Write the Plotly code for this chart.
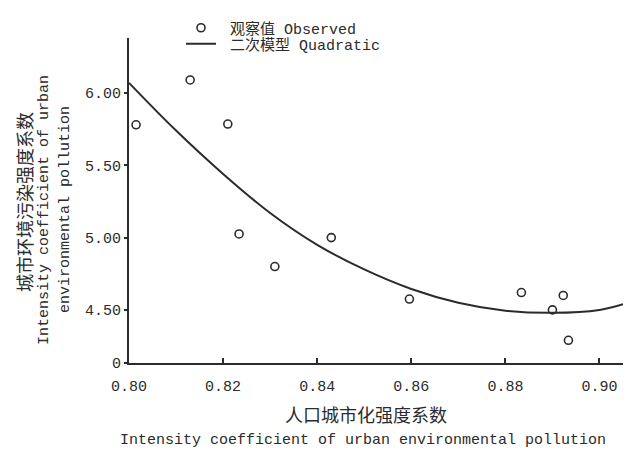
import plotly.graph_objects as go

# Observed values
obs_x = [0.8015, 0.8130, 0.8210, 0.8234, 0.8310, 0.8430, 0.8596, 0.8834, 0.8900, 0.8923, 0.8934]
obs_y = [5.78, 6.09, 5.785, 5.025, 4.80, 5.00, 4.575, 4.62, 4.50, 4.60, 4.29]

# Quadratic model curve
fit_x = [0.800, 0.810, 0.820, 0.830, 0.840, 0.850, 0.860, 0.870, 0.880, 0.890, 0.900, 0.905]
fit_y = [6.07, 5.74, 5.44, 5.17, 4.95, 4.78, 4.645, 4.55, 4.495, 4.48, 4.50, 4.54]

x_tickvals = [0.80, 0.82, 0.84, 0.86, 0.88, 0.90]
x_ticktext = ["0.80", "0.82", "0.84", "0.86", "0.88", "0.90"]
y_tickvals = [4.133, 4.50, 5.00, 5.50, 6.00]
y_ticktext = ["0", "4.50", "5.00", "5.50", "6.00"]

MONO = "Liberation Mono, Noto Sans CJK SC, monospace"
CJK = "Noto Sans CJK SC"
INK = "#2b2b2b"

fig = go.Figure()
fig.add_trace(go.Scatter(
    x=obs_x, y=obs_y, mode="markers",
    name="\u00a0观察值 Observed",
    marker=dict(symbol="circle-open", size=8, color=INK, line=dict(width=1.6)),
    cliponaxis=False, legend="legend",
))
fig.add_trace(go.Scatter(
    x=fit_x, y=fit_y, mode="lines",
    name="\u00a0二次模型 Quadratic",
    line=dict(color=INK, width=2, shape="spline"), legend="legend2",
))

L, R, T, B = 129, 14, 38, 91
W, H = 637, 454
pw, ph = W - L - R, H - T - B

def px(xp):
    return (xp - L) / pw

def py(yp):
    return (H - B - yp) / ph

leg_common = dict(
    xanchor="left", yanchor="middle", bgcolor="rgba(0,0,0,0)",
    font=dict(size=15, family=MONO, color=INK), itemwidth=30,
)

fig.update_layout(
    width=W, height=H,
    margin=dict(l=L, r=R, t=T, b=B, autoexpand=False),
    paper_bgcolor="white", plot_bgcolor="white",
    font=dict(family=MONO, size=14, color=INK),
    showlegend=True,
    legend=dict(x=px(181), y=py(28), **leg_common),
    legend2=dict(x=px(181), y=py(44), **leg_common),
    xaxis=dict(
        range=[0.80, 0.905], tickvals=x_tickvals, ticktext=x_ticktext,
        showgrid=False, zeroline=False, showline=True, linecolor=INK, linewidth=2,
        ticks="inside", ticklen=5, tickwidth=1.5, tickcolor=INK,
        ticklabelstandoff=8,
        tickfont=dict(family=MONO, size=15, color=INK),
    ),
    yaxis=dict(
        range=[4.133, 6.38], tickvals=y_tickvals, ticktext=y_ticktext,
        showgrid=False, zeroline=False, showline=True, linecolor=INK, linewidth=2,
        ticks="outside", ticklen=3, tickwidth=1.5, tickcolor=INK,
        tickfont=dict(family=MONO, size=15, color=INK),
    ),
    annotations=[
        dict(xref="paper", yref="paper", x=px(366), y=py(414),
             xanchor="center", yanchor="middle",
             text="人口城市化强度系数", showarrow=False,
             font=dict(family=CJK, size=18, color=INK)),
        dict(xref="paper", yref="paper", x=px(363), y=py(440),
             xanchor="center", yanchor="middle",
             text="Intensity coefficient of urban environmental pollution",
             showarrow=False, font=dict(family=MONO, size=15, color=INK)),
        dict(xref="paper", yref="paper", x=px(24), y=py(202), textangle=-90,
             xanchor="center", yanchor="middle",
             text="城市环境污染强度系数", showarrow=False,
             font=dict(family=CJK, size=18, color=INK)),
        dict(xref="paper", yref="paper", x=px(45), y=py(210), textangle=-90,
             xanchor="center", yanchor="middle",
             text="Intensity coefficient of urban", showarrow=False,
             font=dict(family=MONO, size=15, color=INK)),
        dict(xref="paper", yref="paper", x=px(66), y=py(210), textangle=-90,
             xanchor="center", yanchor="middle",
             text="environmental pollution", showarrow=False,
             font=dict(family=MONO, size=15, color=INK)),
    ],
)

fig.write_html("out.html", config={"displayModeBar": False},
               post_script="document.body.style.margin='0';")
